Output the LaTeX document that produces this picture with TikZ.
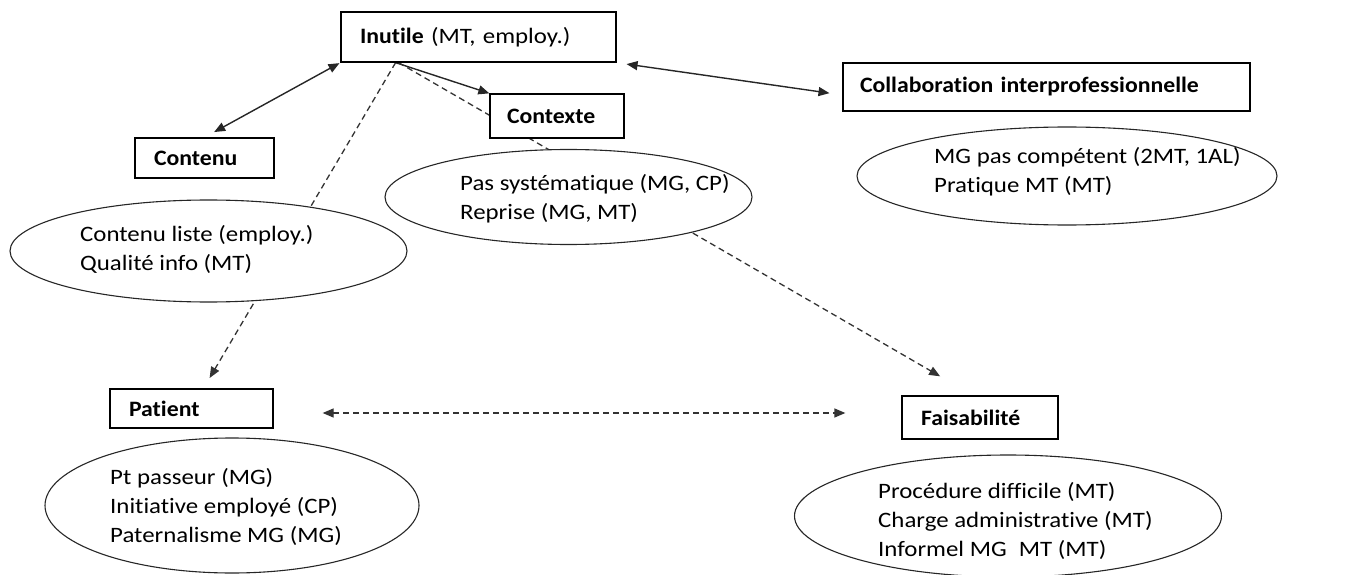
\documentclass[tikz,border=0pt]{standalone}
\usepackage{fontspec}
\setmainfont{Carlito}[Ligatures=NoCommon, FakeStretch=1.13,
  BoldFeatures={FakeStretch=1.08}]
\usetikzlibrary{arrows.meta,shapes.geometric,calc}

\tikzset{
  catbox/.style={draw=black, line width=1.3pt, fill=white, rectangle,
    inner sep=0pt, align=left, font=\fontsize{22}{26}\selectfont},
  cloud/.style={draw=black!85, line width=1.1pt, fill=white, ellipse, inner sep=0pt},
  cloudtext/.style={anchor=west, inner sep=0pt, align=left,
    font=\fontsize{22}{29}\selectfont},
  tip/.style={-{Triangle[length=11pt,width=9pt]}},
  duo/.style={{Triangle[length=11pt,width=9pt]}-{Triangle[length=11pt,width=9pt]}},
  link/.style={line width=1.4pt, black!85},
  dlink/.style={line width=1.3pt, black!80, dash pattern=on 6pt off 4pt},
}

\begin{document}
\begin{tikzpicture}[x=1pt, y=-1pt]
  \useasboundingbox (0,0) rectangle (1363,575);

  % category boxes
  \path
    node[catbox, minimum width=275pt, minimum height=50pt, text width=237pt] (inutile) at (478.5,37) {\textbf{Inutile} (MT, employ.)}
    node[catbox, minimum width=134pt, minimum height=44pt, text width=100pt] (contexte) at (557,116) {\textbf{Contexte}}
    node[catbox, minimum width=139pt, minimum height=40pt, text width=101pt] (contenu) at (204.5,158) {\textbf{Contenu}}
    node[catbox, minimum width=407pt, minimum height=48pt, text width=373pt] (collab) at (1046.5,87) {\textbf{Collaboration interprofessionnelle}}
    node[catbox, minimum width=163pt, minimum height=39pt, text width=125pt] (patient) at (191.5,408.5) {\textbf{Patient}}
    node[catbox, minimum width=156pt, minimum height=43pt, text width=118pt] (faisab) at (980,417.5) {\textbf{Faisabilité}};

  \coordinate (hub) at ($(inutile.south west)!0.2!(inutile.south east)$);
  \coordinate (pf) at ($(patient.east)+(0,4.5)$);

  % connectors
  \draw[link, duo, shorten <=11pt, shorten >=1pt] (contenu.north) -- (inutile.south west);
  \draw[link, tip] (hub) -- (contexte.north west);
  \draw[link, duo, shorten <=10pt, shorten >=13pt] (inutile.south east) -- ([yshift=-8pt]collab.west);
  \draw[dlink, tip, shorten >=12pt] (hub) -- ([xshift=12pt]patient.north);
  \draw[dlink, tip, shorten >=38pt] ([xshift=3pt]hub) -- ([xshift=-7pt]faisab.north);
  \draw[dlink, duo, shorten <=49pt, shorten >=56pt] (pf) -- (pf -| faisab.west);

  % theme ellipses and their items
  \node[cloud, minimum width=397pt, minimum height=102pt] (econtenu) at (208.5,251) {};
  \node[cloudtext] (tcontenu) at (80,249)
    {Contenu liste (employ.)\\Qualité info (MT)};

  \node[cloud, minimum width=367pt, minimum height=95pt] (econtexte) at (568.5,197) {};
  \node[cloudtext] (tcontexte) at (460,199)
    {Pas systématique (MG, CP)\\Reprise (MG, MT)};

  \node[cloud, minimum width=420pt, minimum height=98pt] (ecollab) at (1067,176) {};
  \node[cloudtext] (tcollab) at (934,172)
    {MG pas compétent (2MT, 1AL)\\Pratique MT (MT)};

  \node[cloud, minimum width=374pt, minimum height=135pt] (epatient) at (232,505.5) {};
  \node[cloudtext] (tpatient) at (110,507)
    {Pt passeur (MG)\\Initiative employé (CP)\\Paternalisme MG (MG)};

  \node[cloud, minimum width=427pt, minimum height=122pt] (efaisab) at (1008,516) {};
  \node[cloudtext] (tfaisab) at (878,521)
    {Procédure difficile (MT)\\Charge administrative (MT)\\Informel MG\hspace{0.3em} MT (MT)};

  % boxes redrawn above the dashed lines
  \node[catbox, minimum width=275pt, minimum height=50pt, text width=237pt] (inutiletop) at (inutile) {\textbf{Inutile} (MT, employ.)};
  \node[catbox, minimum width=134pt, minimum height=44pt, text width=100pt] (contextetop) at (contexte) {\textbf{Contexte}};
\end{tikzpicture}
\end{document}
